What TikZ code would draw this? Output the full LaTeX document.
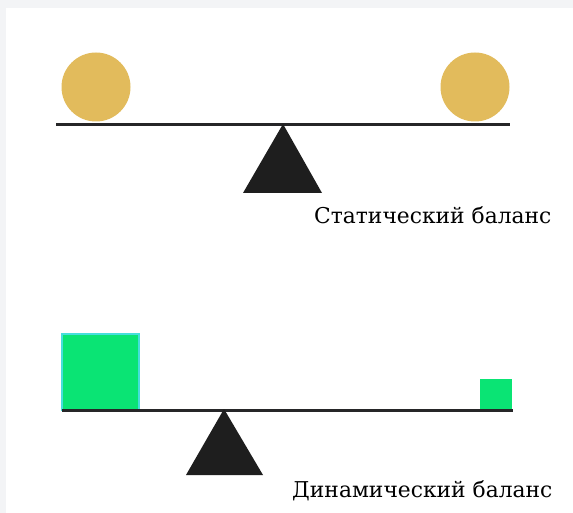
\documentclass[tikz,border=0pt]{standalone}
\usepackage{fontspec}
\setmainfont{DejaVu Serif}
\definecolor{gold}{RGB}{226,187,92}
\definecolor{boxgreen}{RGB}{10,228,116}
\definecolor{boxedge}{RGB}{70,222,220}
\definecolor{beamcol}{RGB}{38,38,40}
\definecolor{fulcrum}{RGB}{30,30,30}
\definecolor{frame}{RGB}{243,244,246}
\tikzset{
  beam/.style={draw=beamcol, line width=3pt},
  ball/.style={circle, fill=gold, inner sep=0pt, minimum size=69pt},
  weightbox/.style={fill=boxgreen, draw=boxedge, line width=1.6pt, inner sep=0pt},
  caption/.style={font=\fontsize{21.8}{26}\selectfont, inner sep=0pt, anchor=base west},
}
\begin{document}
\begin{tikzpicture}[x=1pt,y=-1pt]
\fill[frame] (0,0) rectangle (573,513);
\fill[white] (6,8) rectangle (573,513);
\useasboundingbox (0,0) rectangle (573,513);
% static balance
\coordinate (b1l) at (56,125);
\coordinate (b1r) at (510,125);
\node[ball] (ballL) at (96,87) {};
\node[ball] (ballR) at (475,87) {};
\draw[beam] (b1l) -- (b1r);
\fill[fulcrum] (283,124) -- (322,193) -- (243,193) -- cycle;
\node[caption] (cap1) at (314,224) {Статический баланс};
% dynamic balance
\coordinate (b2l) at (62,410);
\coordinate (b2r) at (513,410);
\node[weightbox, minimum width=77pt, minimum height=76pt] (boxL) at (100.5,372) {};
\node[weightbox, draw=none, minimum width=32pt, minimum height=31pt] (boxR) at (495.5,394.5) {};
\draw[beam] (b2l) -- (b2r);
\fill[fulcrum] (224,409) -- (263,475) -- (186,475) -- cycle;
\node[caption] (cap2) at (292,497) {Динамический баланс};
\end{tikzpicture}
\end{document}
